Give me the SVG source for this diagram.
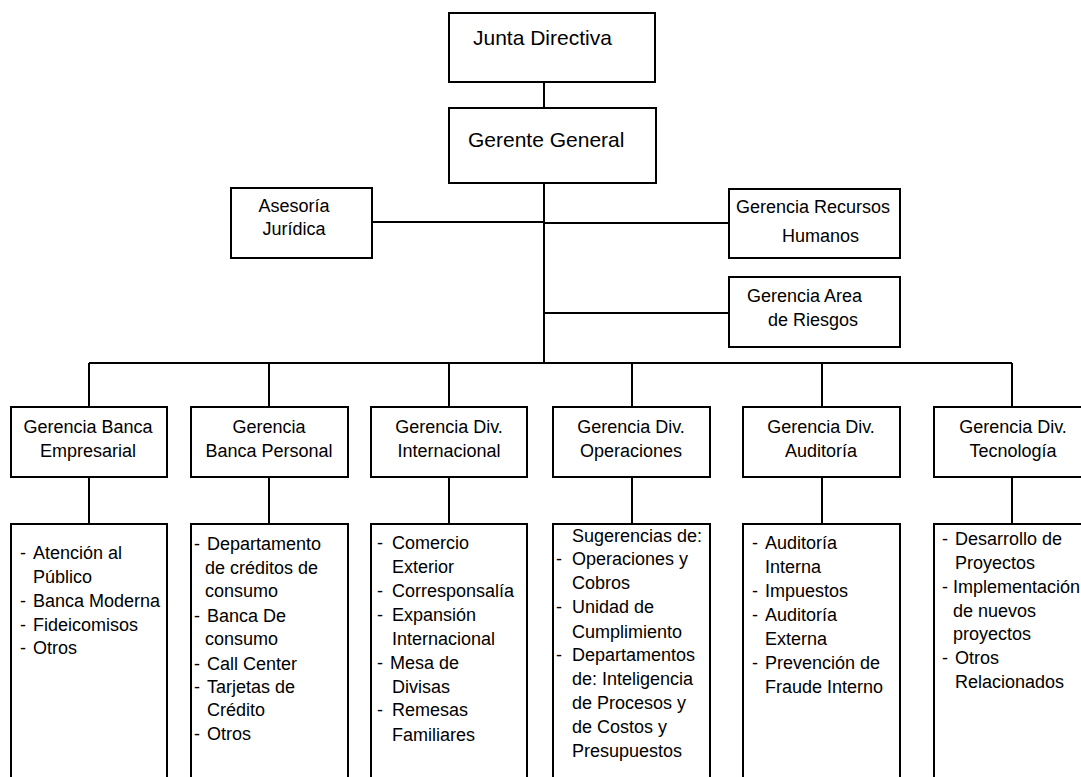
<svg xmlns="http://www.w3.org/2000/svg" width="1081" height="777" viewBox="0 0 1081 777">
<style>
.box{fill:#fff;stroke:#000;stroke-width:2}
.ln{fill:none;stroke:#000;stroke-width:2}
text{font-family:"Liberation Sans",Arial,sans-serif;font-size:18px;fill:#000}
.big{font-size:21px}
.c{text-anchor:middle}
</style>
<rect width="1081" height="777" fill="#fff"/>
<g id="connectors">
<path class="ln" d="M544 82V108M544 183V363M372 222H544M544 223H729M544 313H729M89 363H1012M89 363V407M269 363V407M449 363V407M632 363V407M822 363V407M1012 363V407M89 477V524M269 477V524M449 477V524M632 477V524M822 477V524M1012 477V524"/>
</g>
<g id="junta"><rect class="box" x="449" y="13" width="206" height="69"/><text class="big" x="473" y="45">Junta Directiva</text></g>
<g id="gerente"><rect class="box" x="449" y="108" width="207" height="75"/><text class="big" x="468" y="147">Gerente General</text></g>
<g id="asesoria"><rect class="box" x="231" y="188" width="141" height="70"/><text class="c" x="294" y="212">Asesoría</text><text class="c" x="294" y="235">Jurídica</text></g>
<g id="rrhh"><rect class="box" x="729" y="189" width="171" height="69"/><text x="736" y="213">Gerencia Recursos</text><text x="782" y="242">Humanos</text></g>
<g id="riesgos"><rect class="box" x="729" y="277" width="171" height="70"/><text x="747" y="302">Gerencia Area</text><text x="768" y="326">de Riesgos</text></g>
<g id="banca-emp"><rect class="box" x="11" y="407" width="156" height="70"/><text class="c" x="88" y="433">Gerencia Banca</text><text class="c" x="88" y="457">Empresarial</text></g>
<g id="banca-per"><rect class="box" x="191" y="407" width="157" height="70"/><text class="c" x="269" y="433">Gerencia</text><text class="c" x="269" y="457">Banca Personal</text></g>
<g id="internacional"><rect class="box" x="371" y="407" width="156" height="70"/><text class="c" x="449" y="433">Gerencia Div.</text><text class="c" x="449" y="457">Internacional</text></g>
<g id="operaciones"><rect class="box" x="553" y="407" width="157" height="70"/><text class="c" x="631" y="433">Gerencia Div.</text><text class="c" x="631" y="457">Operaciones</text></g>
<g id="auditoria"><rect class="box" x="743" y="407" width="157" height="70"/><text class="c" x="821" y="433">Gerencia Div.</text><text class="c" x="821" y="457">Auditoría</text></g>
<g id="tecnologia"><rect class="box" x="934" y="407" width="160" height="70"/><text class="c" x="1013" y="433">Gerencia Div.</text><text class="c" x="1013" y="457">Tecnología</text></g>
<g id="list-emp"><rect class="box" x="11" y="524" width="156" height="270"/>
<text x="20" y="559">-</text><text x="33" y="559">Atención al</text><text x="33" y="583">Público</text>
<text x="20" y="607">-</text><text x="33" y="607">Banca Moderna</text>
<text x="20" y="631">-</text><text x="33" y="631">Fideicomisos</text>
<text x="20" y="654">-</text><text x="33" y="654">Otros</text></g>
<g id="list-per"><rect class="box" x="191" y="524" width="157" height="270"/>
<text x="194" y="550">-</text><text x="207" y="550">Departamento</text><text x="205" y="574">de créditos de</text><text x="205" y="597">consumo</text>
<text x="194" y="622">-</text><text x="207" y="622">Banca De</text><text x="205" y="645">consumo</text>
<text x="194" y="670">-</text><text x="207" y="670">Call Center</text>
<text x="194" y="693">-</text><text x="207" y="693">Tarjetas de</text><text x="207" y="716">Crédito</text>
<text x="194" y="740">-</text><text x="207" y="740">Otros</text></g>
<g id="list-int"><rect class="box" x="371" y="524" width="156" height="270"/>
<text x="377" y="549">-</text><text x="392" y="549">Comercio</text><text x="392" y="573">Exterior</text>
<text x="377" y="597">-</text><text x="392" y="597">Corresponsalía</text>
<text x="377" y="621">-</text><text x="392" y="621">Expansión</text><text x="392" y="645">Internacional</text>
<text x="377" y="669">-</text><text x="390" y="669">Mesa de</text><text x="392" y="693">Divisas</text>
<text x="377" y="716">-</text><text x="392" y="716">Remesas</text><text x="392" y="741">Familiares</text></g>
<g id="list-ope"><rect class="box" x="553" y="524" width="157" height="270"/>
<text x="572" y="542">Sugerencias de:</text>
<text x="556" y="565">-</text><text x="572" y="565">Operaciones y</text><text x="572" y="589">Cobros</text>
<text x="556" y="613">-</text><text x="572" y="613">Unidad de</text><text x="572" y="638">Cumplimiento</text>
<text x="556" y="661">-</text><text x="572" y="661">Departamentos</text><text x="572" y="685">de: Inteligencia</text><text x="572" y="709">de Procesos y</text><text x="572" y="733">de Costos y</text><text x="572" y="757">Presupuestos</text></g>
<g id="list-aud"><rect class="box" x="743" y="524" width="157" height="270"/>
<text x="752" y="549">-</text><text x="765" y="549">Auditoría</text><text x="765" y="573">Interna</text>
<text x="752" y="597">-</text><text x="765" y="597">Impuestos</text>
<text x="752" y="621">-</text><text x="765" y="621">Auditoría</text><text x="765" y="645">Externa</text>
<text x="752" y="669">-</text><text x="765" y="669">Prevención de</text><text x="765" y="693">Fraude Interno</text></g>
<g id="list-tec"><rect class="box" x="934" y="524" width="160" height="270"/>
<text x="942" y="545">-</text><text x="955" y="545">Desarrollo de</text><text x="955" y="569">Proyectos</text>
<text x="942" y="593">-</text><text x="953" y="593">Implementación</text><text x="953" y="617">de nuevos</text><text x="953" y="640">proyectos</text>
<text x="942" y="664">-</text><text x="955" y="664">Otros</text><text x="955" y="688">Relacionados</text></g>
</svg>
